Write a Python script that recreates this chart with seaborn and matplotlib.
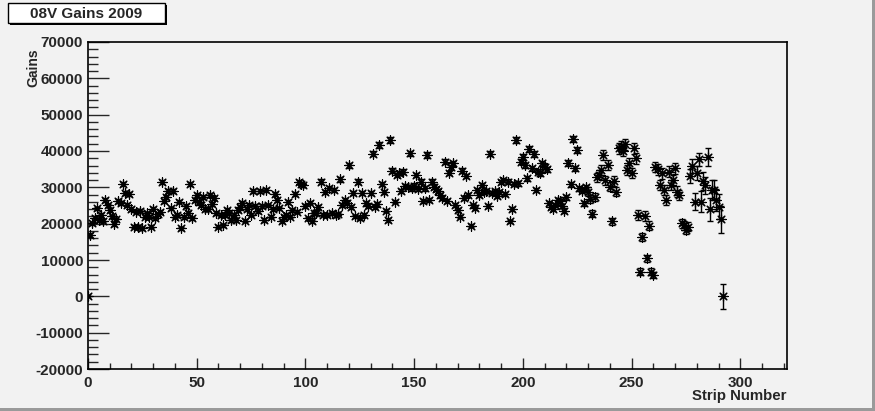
import matplotlib
matplotlib.use("Agg")
import matplotlib.pyplot as plt
from matplotlib.patches import Rectangle
from matplotlib.ticker import MultipleLocator
import pandas as pd
import seaborn as sns

# gain per strip (strip index = position in list)
gains = [
    0, 16900, 20100, 21500, 24200, 21000, 22400, 20800, 26500, 25000,
    23800, 22000, 19900, 21200, 26200, 25600, 30900, 28400, 25100, 28200,
    24000, 19200, 23300, 19200, 23600, 18700, 21900, 22800, 21900, 19200,
    24000, 21500, 22600, 23300, 31500, 26200, 27300, 29100, 24200, 29100,
    21900, 22500, 26100, 18700, 21800, 24900, 23000, 30900, 21500, 26500,
    27900, 26100, 25000, 27300, 24000, 23900, 27900, 25500, 27000, 23000,
    19200, 22400, 19500, 22400, 23800, 22800, 21000, 22400, 21000, 23800,
    24500, 25600, 20800, 24000, 25100, 22500, 29100, 24900, 23500, 29000,
    24900, 21000, 29300, 25000, 21900, 24000, 28200, 26500, 24200, 20600,
    21800, 22400, 26000, 21900, 23800, 28200, 23300, 31500, 31000, 30600,
    24900, 21500, 25800, 20600, 22800, 22900, 24500, 31600, 22500, 28800,
    22400, 29700, 22900, 29300, 22400, 22600, 32200, 25100, 26500, 25600,
    36100, 24500, 28500, 22000, 31600, 21500, 28400, 22400, 25600, 24900,
    28500, 39200, 24500, 25500, 41700, 30900, 28800, 23600, 21000, 43000,
    34600, 26100, 33400, 33900, 29100, 34300, 30400, 30000, 39400, 29700,
    30500, 33400, 29500, 31600, 26300, 29700, 38900, 26500, 31600, 30200,
    29500, 29100, 27900, 27000, 37100, 26300, 33900, 35500, 36600, 25100,
    23800, 21900, 34600, 27000, 33100, 27900, 19400, 25000, 24200, 29300,
    28000, 30600, 28800, 29100, 24900, 39200, 28500, 29100, 27500, 28800,
    31500, 32000, 28200, 31600, 20600, 24000, 31000, 43000, 31100, 37000,
    38300, 36100, 32500, 40500, 35200, 39200, 29300, 34300, 33900, 36600,
    35700, 35000, 25600, 24500, 24000, 25200, 26500, 26300, 24800, 23600,
    27300, 36600, 30900, 43300, 35200, 40300, 29700, 29100, 25600, 30000,
    28800, 26700, 22700, 27300, 32800, 33500, 34800, 38900, 32000, 36200,
    30200, 20600, 31800, 28800, 40700, 41200, 40000, 41900, 34800, 36600,
    33900, 40700, 38000, 22400, 6800, 16400, 22100, 10500, 19400, 6800,
    5900, 35600, 35000, 30600, 33900, 29300, 26500, 34300, 30600, 32000,
    35200, 28800, 27900, 20100, 19600, 18300, 19200, 33100, 35900, 26100,
    34000, 37700, 26100, 31800, 30600, 38300, 24000, 29300, 29300, 26500,
    24700, 21200, 0,
]

gain_err = [
    0, 450, 480, 500, 520, 470, 490, 460, 540, 510,
    500, 470, 440, 460, 530, 520, 580, 560, 510, 560,
    500, 430, 480, 430, 490, 420, 460, 470, 460, 430,
    490, 460, 470, 480, 580, 530, 540, 560, 500, 560,
    460, 470, 520, 420, 460, 500, 480, 580, 460, 530,
    550, 520, 510, 540, 500, 490, 550, 510, 540, 480,
    430, 470, 440, 470, 490, 480, 450, 470, 450, 490,
    500, 510, 450, 490, 510, 470, 560, 500, 490, 560,
    500, 450, 560, 510, 460, 490, 550, 530, 500, 450,
    460, 470, 520, 460, 490, 550, 480, 590, 580, 570,
    500, 460, 520, 450, 480, 480, 500, 590, 470, 560,
    470, 570, 480, 560, 470, 470, 600, 510, 530, 520,
    650, 500, 560, 460, 600, 460, 560, 470, 520, 500,
    560, 700, 500, 520, 740, 590, 560, 490, 450, 760,
    640, 520, 630, 640, 570, 640, 590, 580, 700, 580,
    590, 630, 580, 600, 530, 580, 690, 530, 600, 590,
    580, 570, 560, 540, 670, 530, 640, 650, 660, 510,
    500, 470, 640, 540, 630, 560, 430, 510, 500, 570,
    560, 590, 570, 570, 510, 700, 560, 570, 550, 570,
    600, 610, 560, 600, 460, 500, 600, 760, 600, 670,
    750, 720, 680, 800, 720, 780, 640, 700, 700, 740,
    720, 710, 600, 590, 580, 600, 620, 620, 600, 580,
    650, 800, 700, 900, 780, 850, 700, 690, 650, 700,
    1200, 1100, 1000, 1150, 1250, 1300, 1300, 1400, 1250, 1350,
    1250, 1000, 1300, 1200, 1450, 1500, 1450, 1500, 1350, 1400,
    1350, 1500, 1450, 1300, 900, 1100, 1250, 1000, 1200, 900,
    900, 1500, 1500, 1400, 1500, 1400, 1350, 1550, 1450, 1500,
    1600, 1450, 1450, 1250, 1250, 1200, 1250, 2000, 1900, 2300,
    1900, 1800, 2800, 2500, 2300, 2400, 3200, 2800, 2600, 3000,
    3500, 3700, 3500,
]

strips = list(range(len(gains)))

TITLE = "08V Gains 2009"
X_LABEL = "Strip Number"
Y_LABEL = "Gains"

sns.set_style("ticks")
plt.rcParams["font.family"] = ["Liberation Sans", "DejaVu Sans"]
plt.rcParams["font.weight"] = "bold"
plt.rcParams["axes.unicode_minus"] = False

BG = "#f2f2f2"
W, H = 875, 411

fig = plt.figure(figsize=(W / 100, H / 100), dpi=100, facecolor=BG)
ax = fig.add_axes([88 / W, 1 - 369 / H, (787 - 88) / W, (369 - 42) / H])
ax.set_facecolor(BG)

df = pd.DataFrame({"strip": strips, "gain": gains, "err": gain_err})

ax.errorbar(df["strip"], df["gain"], yerr=df["err"], fmt="none",
            ecolor="black", elinewidth=1, capsize=2.5, capthick=1, zorder=2)
sns.scatterplot(data=df, x="strip", y="gain", marker=(8, 2, 0), color="black",
                s=46, linewidth=0.85, ax=ax, zorder=3, legend=False)

ax.set_xlim(0, 321.5)
ax.set_ylim(-20000, 70000)
ax.xaxis.set_major_locator(MultipleLocator(50))
ax.xaxis.set_minor_locator(MultipleLocator(10))
ax.yaxis.set_major_locator(MultipleLocator(10000))
ax.yaxis.set_minor_locator(MultipleLocator(2000))

ax.tick_params(axis="y", which="major", direction="in", length=15, width=1,
               labelsize=11, pad=3.5, right=False)
ax.tick_params(axis="y", which="minor", direction="in", length=7.5, width=1, right=False)
ax.tick_params(axis="x", which="major", direction="in", length=8, width=1,
               labelsize=11, pad=5, top=False)
ax.tick_params(axis="x", which="minor", direction="in", length=4, width=1, top=False)

for sp in ax.spines.values():
    sp.set_visible(True)
    sp.set_color("black")
    sp.set_linewidth(1.2)

ax.set_xlabel(X_LABEL, loc="right", fontsize=10.8, fontweight="bold")
ax.xaxis.set_label_coords(1.0, -(389 - 369) / 327)
ax.set_ylabel(Y_LABEL, loc="top", fontsize=10, fontweight="bold")
ax.yaxis.set_label_coords((40 - 88) / 699, 1 - (48 - 42) / 327)

# title box with shadow, ROOT style
fig.patches.append(Rectangle((10 / W, 1 - 25 / H), 157 / W, 20 / H,
                             transform=fig.transFigure, facecolor="black",
                             edgecolor="none", zorder=1))
fig.patches.append(Rectangle((8 / W, 1 - 23 / H), 157 / W, 20 / H,
                             transform=fig.transFigure, facecolor="white",
                             edgecolor="black", linewidth=1, zorder=2))
fig.text(86.5 / W, 1 - 13.5 / H, TITLE, ha="center", va="center",
         fontsize=11, fontweight="bold", zorder=3)

# canvas bevel on the right and bottom
fig.patches.append(Rectangle((872 / W, 0), 3 / W, 1, transform=fig.transFigure,
                             facecolor="#9a9a9a", edgecolor="none"))
fig.patches.append(Rectangle((0, 0), 1, 3 / H, transform=fig.transFigure,
                             facecolor="#9a9a9a", edgecolor="none"))

fig.savefig("out.png", dpi=100, facecolor=BG)
